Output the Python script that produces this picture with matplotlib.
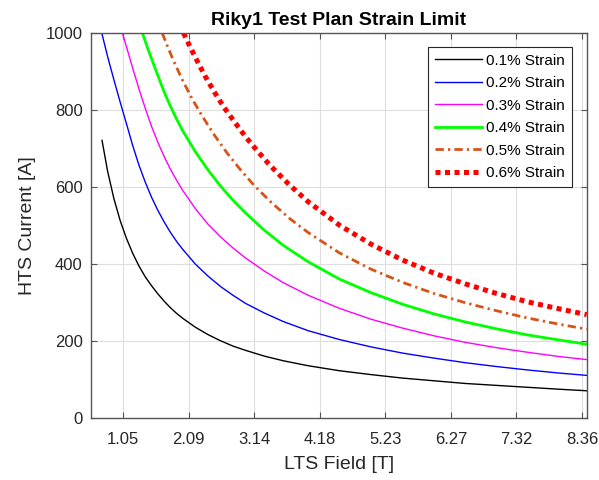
import matplotlib
matplotlib.use("Agg")
import matplotlib.pyplot as plt

plt.rcParams['font.family'] = ['Liberation Sans', 'DejaVu Sans']

# LTS field [T] and HTS current [A] at each strain limit
field_01 = [0.71, 0.8, 0.9, 1.0, 1.1, 1.2, 1.3, 1.4, 1.5, 1.6, 1.7, 1.8, 1.9, 2.0,
            2.2, 2.4, 2.6, 2.8, 3.0, 3.3, 3.6, 4.0, 4.5, 5.0, 5.5, 6.0, 6.5, 7.0,
            7.5, 8.0, 8.44]
curr_01 = [721, 640, 569, 512, 466, 427, 394, 366, 343, 322, 303, 286, 271, 258,
           235, 216, 200, 186, 175, 160, 148, 135, 122, 112, 103, 96, 89, 84,
           79, 74, 70]

field_02 = [0.706, 0.8, 0.9, 1.0, 1.1, 1.2, 1.3, 1.4, 1.5, 1.6, 1.7, 1.8, 1.9, 2.0,
            2.2, 2.4, 2.6, 2.8, 3.0, 3.3, 3.6, 4.0, 4.5, 5.0, 5.5, 6.0, 6.5, 7.0,
            7.5, 8.0, 8.44]
curr_02 = [1000, 938, 878, 820, 764, 707, 656, 612, 573, 539, 509, 482, 458, 437,
           399, 368, 341, 318, 297, 272, 250, 226, 203, 184, 168, 155, 143, 133,
           124, 116, 110]

field_03 = [1.035, 1.1, 1.2, 1.3, 1.4, 1.5, 1.6, 1.7, 1.8, 1.9, 2.0, 2.2, 2.4, 2.6,
            2.8, 3.0, 3.3, 3.6, 4.0, 4.5, 5.0, 5.5, 6.0, 6.5, 7.0, 7.5, 8.0, 8.44]
curr_03 = [1000, 964, 908, 854, 804, 757, 716, 679, 646, 617, 590, 543, 503, 470,
           441, 415, 381, 351, 318, 284, 256, 233, 213, 196, 182, 170, 159, 151]

field_04 = [1.353, 1.45, 1.55, 1.7, 1.8, 1.9, 2.0, 2.2, 2.4, 2.6, 2.8, 3.0, 3.3, 3.6,
            4.0, 4.5, 5.0, 5.5, 6.0, 6.5, 7.0, 7.5, 8.0, 8.44]
curr_04 = [1000, 955, 911, 847, 810, 776, 745, 691, 644, 602, 565, 532, 487, 448,
           405, 360, 325, 295, 270, 249, 231, 215, 202, 191]

field_05 = [1.67, 1.75, 1.85, 2.0, 2.15, 2.3, 2.5, 2.7, 2.9, 3.14, 3.4, 3.7, 4.0,
            4.5, 5.0, 5.5, 6.0, 6.5, 7.0, 7.5, 8.0, 8.44]
curr_05 = [1000, 967, 928, 875, 828, 786, 735, 689, 648, 603, 561, 518, 481,
           428, 386, 352, 323, 299, 278, 259, 243, 230]

field_06 = [2.01, 2.1, 2.2, 2.35, 2.5, 2.65, 2.8, 3.0, 3.2, 3.4, 3.7, 4.0, 4.5,
            5.0, 5.5, 6.0, 6.5, 7.0, 7.5, 8.0, 8.44]
curr_06 = [1000, 969, 936, 889, 847, 808, 774, 730, 691, 654, 605, 561, 500,
           451, 410, 376, 348, 323, 301, 283, 268]

labels = ['0.1% Strain', '0.2% Strain', '0.3% Strain',
          '0.4% Strain', '0.5% Strain', '0.6% Strain']
fields = [field_01, field_02, field_03, field_04, field_05, field_06]
currents = [curr_01, curr_02, curr_03, curr_04, curr_05, curr_06]

styles = [
    dict(color='black', lw=1.0, ls='-'),
    dict(color='#0000FF', lw=1.0, ls='-'),
    dict(color='#FF00FF', lw=1.0, ls='-'),
    dict(color='#00FF00', lw=2.0, ls='-'),
    dict(color='#D95319', lw=2.0, ls=(0, (3, 1.5, 0.8, 1.5))),
    dict(color='#FF0000', lw=3.6, ls=(0, (1, 0.9))),
]

xticks = [1.0455 * k for k in range(1, 9)]
xtick_labels = ['1.05', '2.09', '3.14', '4.18', '5.23', '6.27', '7.32', '8.36']
yticks = [0, 200, 400, 600, 800, 1000]

fig = plt.figure(figsize=(5.99, 4.80), dpi=100)
ax = fig.add_axes([0.152, 0.1298, 0.8275, 0.8015])

for x, y, label, st in zip(fields, currents, labels, styles):
    ax.plot(x, y, label=label, **st)

ax.set_xlim(0.535, 8.44)
ax.set_ylim(0, 1000)
ax.set_xticks(xticks)
ax.set_xticklabels(xtick_labels)
ax.set_yticks(yticks)

axis_col = '#262626'
for s in ax.spines.values():
    s.set_color('#555555')
    s.set_linewidth(1.0)
ax.tick_params(direction='in', top=True, right=True, length=4,
               colors='#555555', labelcolor=axis_col, labelsize=12)
ax.tick_params(axis='x', pad=10)
ax.tick_params(axis='y', pad=6)
ax.grid(True, color='#DEDEDE', linewidth=0.8)
ax.set_axisbelow(True)

ax.set_title('Riky1 Test Plan Strain Limit', fontsize=14, fontweight='bold',
             color='black', pad=6)
ax.set_xlabel('LTS Field [T]', fontsize=14, color=axis_col, labelpad=7)
ax.set_ylabel('HTS Current [A]', fontsize=14, color=axis_col, labelpad=7)

leg = ax.legend(loc='upper right', bbox_to_anchor=(0.9697, 0.9644),
                borderaxespad=0, fancybox=False, framealpha=1,
                edgecolor='#262626', fontsize=11, handlelength=3.1,
                handletextpad=0.25, labelspacing=0.56, borderpad=0.45)
leg.get_frame().set_linewidth(0.8)

fig.savefig('out.png', dpi=100)
